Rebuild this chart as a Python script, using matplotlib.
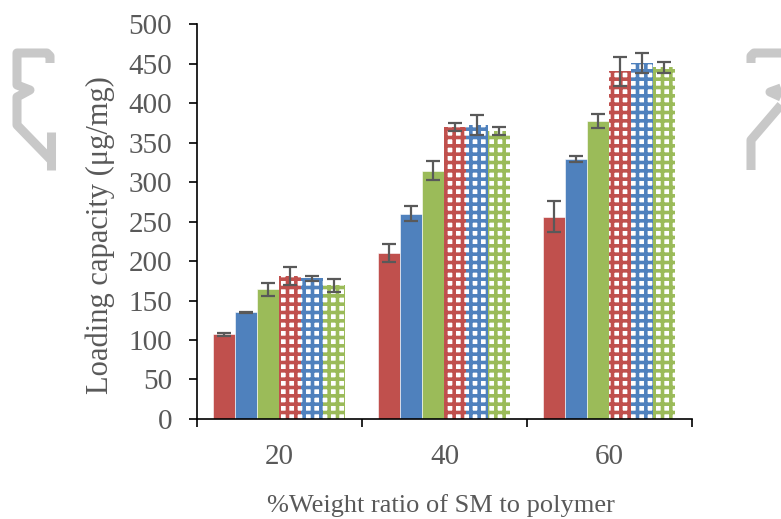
import matplotlib
matplotlib.use("Agg")
import matplotlib.pyplot as plt
from matplotlib.lines import Line2D
import numpy as np

categories = ["20", "40", "60"]
series_names = ["S1", "S2", "S3", "S4", "S5", "S6"]
values = [
    [107, 210, 256],   # red solid
    [135, 260, 329],   # blue solid
    [164, 314, 377],   # green solid
    [181, 370, 440],   # red patterned
    [178, 372, 451],   # blue patterned
    [169, 365, 445],   # green patterned
]
errors = [
    [1.5, 11.5, 19.5],
    [1.0, 9.3, 4.0],
    [8.0, 12.0, 9.0],
    [11.0, 5.0, 18.5],
    [2.7, 13.0, 12.7],
    [8.5, 5.0, 6.5],
]
yticks = [0, 50, 100, 150, 200, 250, 300, 350, 400, 450, 500]

colors = ["#C0504D", "#4F81BD", "#9BBB59", "#C0504D", "#4F81BD", "#9BBB59"]
patterned = [False, False, False, True, True, True]

plt.rcParams["font.family"] = ["Liberation Serif", "DejaVu Serif"]
plt.rcParams["hatch.linewidth"] = 2.6

fig = plt.figure(figsize=(7.81, 5.19), dpi=100)
ax = fig.add_axes([0.2522, 0.1927, 0.886 - 0.2522, 0.761])

x = np.arange(len(categories))
bw = 0.8 / len(series_names)
for i, (vals, errs) in enumerate(zip(values, errors)):
    pos = x - 0.4 + bw * (i + 0.5)
    if patterned[i]:
        ax.bar(pos, vals, bw, facecolor="white", edgecolor=colors[i],
               hatch="++", linewidth=0, zorder=2)
    else:
        ax.bar(pos, vals, bw, color=colors[i], edgecolor="white",
               linewidth=0.4, zorder=2)
    ax.errorbar(pos, vals, yerr=errs, fmt="none", ecolor="#595959",
                elinewidth=1.6, capsize=4.8, capthick=1.6, zorder=3)

ax.set_xlim(-0.5, len(categories) - 0.5)
ax.set_ylim(0, 500)
ax.set_yticks(yticks)
ax.set_xticks(x)
ax.set_xticklabels(categories)
ax.set_xticks(np.arange(len(categories) + 1) - 0.5, minor=True)
ax.tick_params(axis="x", which="major", length=0, pad=18,
               labelsize=21, labelcolor="#595959")
ax.tick_params(axis="x", which="minor", length=6, width=1.2,
               direction="out", color="black")
ax.tick_params(axis="y", length=6, width=1.2, direction="out",
               labelsize=21, labelcolor="#595959", pad=12)

for side in ("top", "right"):
    ax.spines[side].set_visible(False)
for side in ("left", "bottom"):
    ax.spines[side].set_linewidth(1.2)
    ax.spines[side].set_color("black")

ax.set_ylabel("Loading capacity (μg/mg)", fontsize=22, color="#595959")
ax.yaxis.set_label_coords(-0.165, 0.466)
ax.set_xlabel("%Weight ratio of SM to polymer", fontsize=19,
              color="#595959")
ax.xaxis.set_label_coords(0.493, -0.19)

# light grey bracket ornaments at the page edges
W, H = 781.0, 519.0
def ornament(pts):
    xs = [p[0] / W for p in pts]
    ys = [1 - p[1] / H for p in pts]
    fig.add_artist(Line2D(xs, ys, transform=fig.transFigure,
                          color="#C8C8C8", lw=6.5,
                          solid_joinstyle="round", solid_capstyle="butt"))

ornament([(50, 63), (50, 56), (47, 53), (17, 53), (17, 85), (30, 90),
          (17, 97), (17, 125), (51, 160)])
ornament([(51, 132), (51, 170)])
ornament([(751, 63), (751, 56), (754, 53), (781, 53)])
ornament([(781, 88), (770, 92), (781, 97)])
ornament([(781, 105), (751, 140), (751, 170)])

fig.savefig("out.png", dpi=100)
